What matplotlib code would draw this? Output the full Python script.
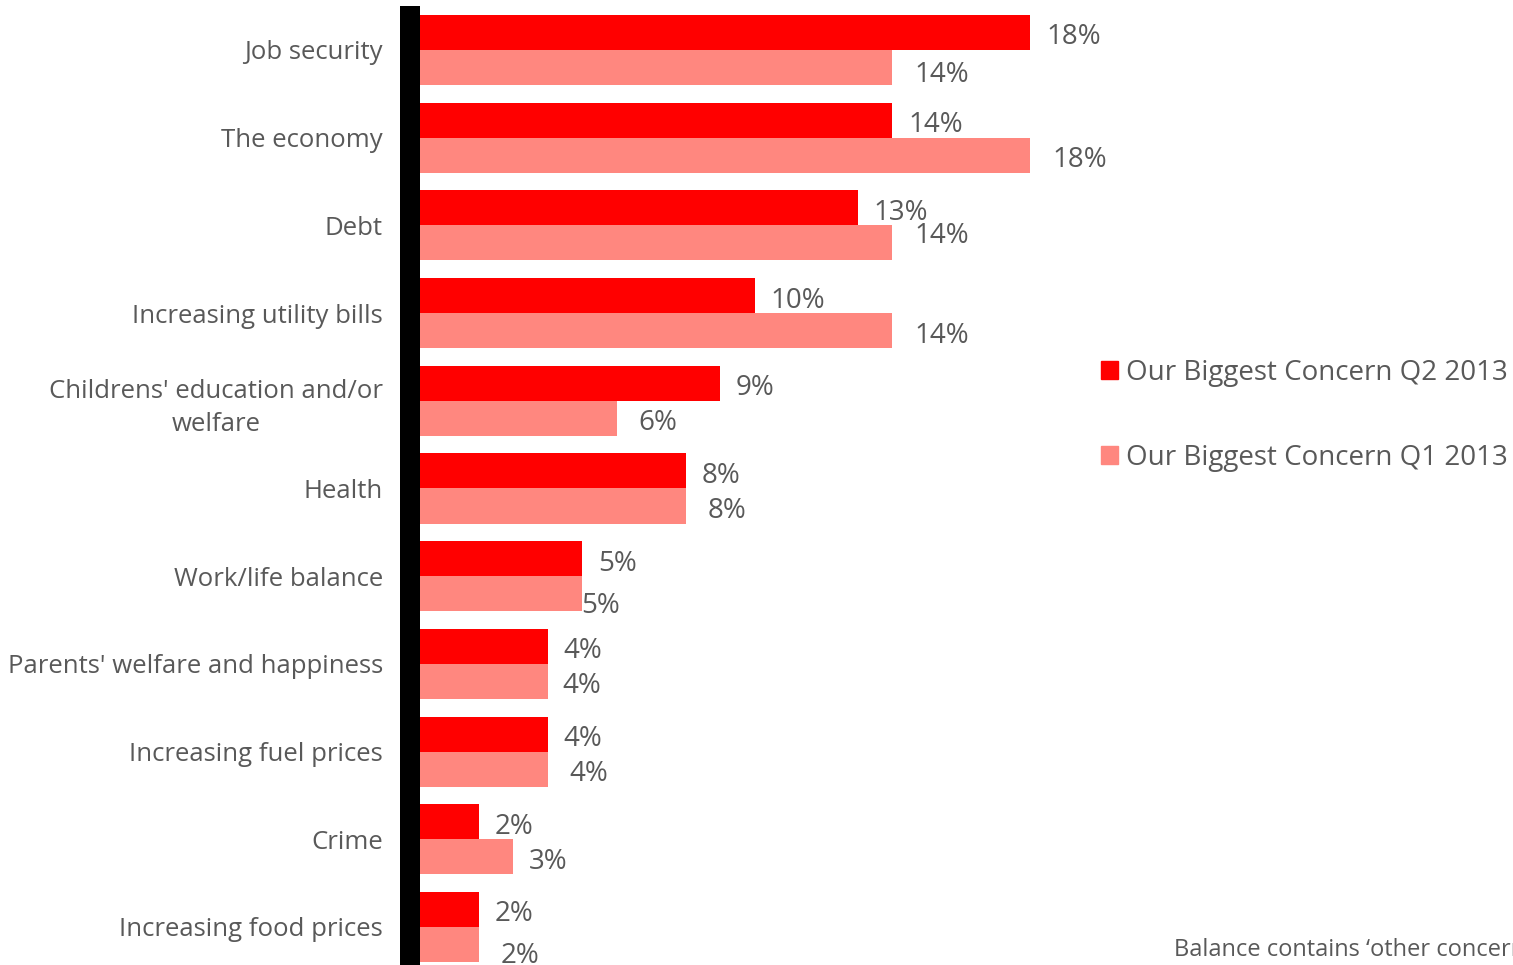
import matplotlib
matplotlib.use("Agg")
import matplotlib.pyplot as plt
from matplotlib.patches import Patch
import numpy as np

# data
categories = ["Job security", "The economy", "Debt", "Increasing utility bills",
              "Childrens' education and/or\nwelfare", "Health", "Work/life balance",
              "Parents' welfare and happiness", "Increasing fuel prices", "Crime",
              "Increasing food prices"]
q2_2013 = [18, 14, 13, 10, 9, 8, 5, 4, 4, 2, 2]
q1_2013 = [14, 18, 14, 14, 6, 8, 5, 4, 4, 3, 2]
series_names = ["Our Biggest Concern Q2 2013", "Our Biggest Concern Q1 2013"]
footnote = "Balance contains \u2018other concerns\u2019"

RED = "#FF0000"
PINK = "#FF877F"
GREY = "#595959"

# manual label nudges for the Q1 series (pixels: dx, dy down)
q1_nudge = {0: (0, 2), 2: (0, -12), 6: (-23, 7), 7: (-7, 0), 9: (-7, 0), 10: (0, 6)}

plt.rcParams['font.family'] = ['Open Sans', 'DejaVu Sans']

W, H = 1513, 965
fig = plt.figure(figsize=(W / 100, H / 100), dpi=100)
# x=0 at pixel 410, 20 units wide at ~34.44 px per unit
ax = fig.add_axes([410 / W, -5.85 / H, 689 / W, 964.7 / H])

y = np.arange(len(categories))
h = 0.4
ax.barh(y - h / 2, q2_2013, height=h, color=RED, label=series_names[0], zorder=1)
ax.barh(y + h / 2, q1_2013, height=h, color=PINK, label=series_names[1], zorder=1)

ax.set_xlim(0, 20)
ax.set_ylim(len(categories) - 0.5, -0.5)
ax.set_yticks(y)
ax.set_yticklabels(categories, fontsize=18.5, color=GREY, multialignment="center")
for lbl in ax.get_yticklabels():
    lbl.set_linespacing(1.45)
ax.tick_params(axis="y", length=0, pad=19.5)
ax.set_xticks([])

for s in ["top", "right", "bottom"]:
    ax.spines[s].set_visible(False)
ax.spines["left"].set_linewidth(14.4)
ax.spines["left"].set_color("black")
ax.spines["left"].set_capstyle("butt")
ax.spines["left"].set_zorder(3)

for i in range(len(categories)):
    ax.annotate(f"{q2_2013[i]}%", (q2_2013[i], y[i] - h / 2), xytext=(16, -5),
                textcoords="offset pixels", ha="left", va="center",
                fontsize=20, color=GREY)
    dx, dy = q1_nudge.get(i, (0, 0))
    ax.annotate(f"{q1_2013[i]}%", (q1_2013[i], y[i] + h / 2), xytext=(22 + dx, -5 - dy),
                textcoords="offset pixels", ha="left", va="center",
                fontsize=20, color=GREY)

handles = [Patch(color=RED), Patch(color=PINK)]
fig.legend(handles, series_names, loc="upper left",
           bbox_to_anchor=(1087 / W, 1 - 345 / H), frameon=False,
           fontsize=20, labelcolor=GREY, handlelength=0.6, handleheight=0.6,
           handletextpad=0.3, labelspacing=2.05, borderpad=0)

fig.text(1174 / W, 1 - 956 / H, footnote, fontsize=17, color=GREY,
         ha="left", va="baseline")

fig.savefig("out.png", dpi=100)
